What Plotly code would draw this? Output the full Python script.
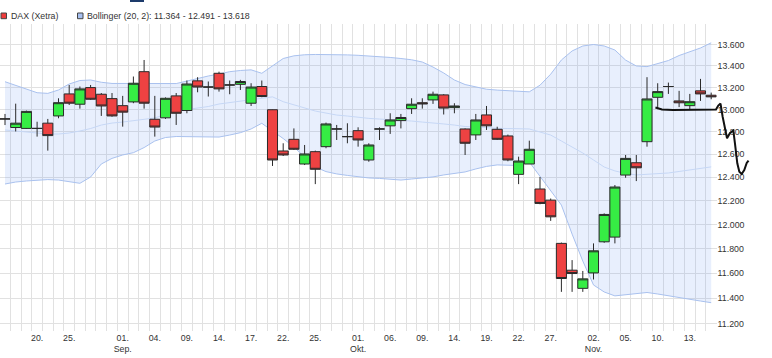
import plotly.graph_objects as go

# ---------------- data ----------------
dates = [
    "2020-08-17", "2020-08-18", "2020-08-19", "2020-08-20", "2020-08-21",
    "2020-08-24", "2020-08-25", "2020-08-26", "2020-08-27", "2020-08-28",
    "2020-08-31", "2020-09-01", "2020-09-02", "2020-09-03", "2020-09-04",
    "2020-09-07", "2020-09-08", "2020-09-09", "2020-09-10", "2020-09-11",
    "2020-09-14", "2020-09-15", "2020-09-16", "2020-09-17", "2020-09-18",
    "2020-09-21", "2020-09-22", "2020-09-23", "2020-09-24", "2020-09-25",
    "2020-09-28", "2020-09-29", "2020-09-30", "2020-10-01", "2020-10-02",
    "2020-10-05", "2020-10-06", "2020-10-07", "2020-10-08", "2020-10-09",
    "2020-10-12", "2020-10-13", "2020-10-14", "2020-10-15", "2020-10-16",
    "2020-10-19", "2020-10-20", "2020-10-21", "2020-10-22", "2020-10-23",
    "2020-10-26", "2020-10-27", "2020-10-28", "2020-10-29", "2020-10-30",
    "2020-11-02", "2020-11-03", "2020-11-04", "2020-11-05", "2020-11-06",
    "2020-11-09", "2020-11-10", "2020-11-11", "2020-11-12", "2020-11-13",
    "2020-11-16", "2020-11-17",
]

opens = [12915, 12838, 12830, 12830, 12877, 12942, 13142, 13048, 13200, 13139,
         13099, 13035, 13069, 13347, 12912, 12925, 13124, 12991, 13262, 13205,
         13332, 13224, 13230, 13057, 13210, 12998, 12630, 12733, 12516, 12624,
         12668, 12825, 12757, 12810, 12551, 12825, 12853, 12900, 13008, 13062,
         13087, 13133, 13017, 12825, 12772, 12951, 12822, 12763, 12426, 12516,
         12300, 12205, 11843, 11624, 11478, 11602, 11856, 11895, 12420, 12527,
         12712, 13111, 13210, 13078, 13035, 13170, 13130]
highs = [12960, 13053, 12990, 12890, 12915, 13102, 13224, 13210, 13224, 13150,
         13150, 13124, 13302, 13456, 13124, 13110, 13150, 13265, 13296, 13256,
         13347, 13265, 13271, 13240, 13265, 13000, 12698, 12830, 12683, 12633,
         12882, 12861, 12876, 12840, 12698, 12840, 12966, 12960, 13102, 13102,
         13163, 13140, 13057, 12830, 12960, 13032, 12845, 12775, 12580, 12721,
         12403, 12219, 11850, 11706, 11618, 11843, 12093, 12334, 12595, 12595,
         13296, 13240, 13246, 13170, 13142, 13280, 13154]
lows = [12860, 12803, 12825, 12757, 12633, 12921, 13041, 13008, 13087, 12942,
        12935, 12846, 13057, 13008, 12757, 12915, 12861, 12966, 13157, 13118,
        13163, 13139, 13178, 13032, 13112, 12499, 12586, 12639, 12507, 12342,
        12654, 12727, 12698, 12668, 12536, 12727, 12781, 12830, 12960, 13008,
        13051, 12955, 12966, 12595, 12727, 12816, 12727, 12540, 12342, 12516,
        12170, 12030, 11450, 11450, 11450, 11549, 11848, 11843, 12397, 12368,
        12668, 13003, 13142, 13022, 12998, 13078, 13093]
closes = [12915, 12877, 12983, 12830, 12766, 13062, 13057, 13188, 13093, 13032,
          12942, 12976, 13240, 13057, 12842, 13102, 12966, 13233, 13205, 13205,
          13188, 13224, 13256, 13205, 13118, 12551, 12595, 12645, 12604, 12470,
          12870, 12825, 12757, 12727, 12683, 12825, 12906, 12928, 13048, 13051,
          13139, 13013, 13032, 12698, 12906, 12853, 12733, 12551, 12542, 12645,
          12177, 12064, 11557, 11597, 11554, 11782, 12084, 12317, 12565, 12483,
          13096, 13163, 13210, 13061, 13071, 13142, 13115]

bb_upper = [13254, 13219, 13187, 13153, 13147, 13178, 13233, 13265, 13270, 13249,
            13238, 13237, 13237, 13237, 13237, 13237, 13237, 13260, 13284, 13307,
            13325, 13347, 13358, 13364, 13332, 13400, 13470, 13495, 13505, 13508,
            13508, 13506, 13504, 13500, 13495, 13488, 13480, 13470, 13458, 13437,
            13390, 13335, 13270, 13228, 13204, 13185, 13177, 13172, 13167, 13161,
            13222, 13324, 13456, 13541, 13588, 13602, 13588, 13550, 13455, 13400,
            13394, 13423, 13451, 13498, 13530, 13569, 13618]
bb_middle = [12816, 12807, 12801, 12793, 12780, 12780, 12789, 12807, 12829, 12860,
             12878, 12887, 12899, 12915, 12924, 12955, 12986, 13000, 13011, 13027,
             13050, 13064, 13073, 13087, 13101, 13115, 13071, 13041, 13009, 12986,
             12968, 12950, 12941, 12928, 12920, 12914, 12910, 12905, 12896, 12887,
             12881, 12870, 12860, 12847, 12843, 12834, 12831, 12829, 12825, 12825,
             12798, 12771, 12718, 12665, 12612, 12551, 12490, 12456, 12434, 12421,
             12425, 12430, 12438, 12451, 12464, 12477, 12491]
bb_lower = [12343, 12360, 12369, 12377, 12381, 12377, 12360, 12349, 12403, 12516,
            12565, 12595, 12615, 12660, 12718, 12749, 12758, 12756, 12753, 12751,
            12753, 12771, 12792, 12825, 12876, 12807, 12740, 12665, 12578, 12490,
            12450, 12430, 12417, 12404, 12395, 12391, 12386, 12377, 12386, 12395,
            12404, 12421, 12436, 12447, 12473, 12495, 12508, 12508, 12503, 12534,
            12412, 12291, 12163, 11920, 11698, 11505, 11449, 11418, 11429, 11437,
            11445, 11433, 11418, 11401, 11389, 11377, 11364]

tick_dates = ["2020-08-20", "2020-08-25", "2020-09-01", "2020-09-04", "2020-09-09",
              "2020-09-14", "2020-09-17", "2020-09-22", "2020-09-25", "2020-10-01",
              "2020-10-06", "2020-10-09", "2020-10-14", "2020-10-19", "2020-10-22",
              "2020-10-27", "2020-11-02", "2020-11-05", "2020-11-10", "2020-11-13"]
tick_labels = ["20.", "25.", "01.<br>Sep.", "04.", "09.", "14.", "17.", "22.", "25.",
               "01.<br>Okt.", "06.", "09.", "14.", "19.", "22.", "27.", "02.<br>Nov.",
               "05.", "10.", "13."]

y_tickvals = [11200, 11400, 11600, 11800, 12000, 12200, 12400,
              12600, 12800, 13000, 13200, 13400, 13600]
y_ticktext = ["11.200", "11.400", "11.600", "11.800", "12.000", "12.200", "12.400",
              "12.600", "12.800", "13.000", "13.200", "13.400", "13.600"]

# hand-drawn black stroke: (trading-day position, price level)
scribble_pos = [60.79, 61.40, 62.43, 64.95, 66.45, 66.66, 66.87, 67.07, 67.29, 67.48,
                67.76, 68.07, 68.22, 68.44, 68.63, 68.85, 69.09, 69.32, 69.49]
scribble_price = [13018, 13000, 12995, 13000, 13000, 13036, 13054, 12935, 12816, 12742,
                  12789, 12811, 12698, 12522, 12449, 12429, 12464, 12525, 12546]

# ---------------- figure ----------------
W, H = 772, 358
M_T, M_B = 24, 27
PLOT_H = H - M_T - M_B
PX_PER_DAY = 10.7
X0 = -0.467
X_RIGHT_PX = 716.6
YR = [4.04697, 4.13980]

x = list(range(len(dates)))
tickvals = [dates.index(d) for d in tick_dates]

band_line = "#a9c1ee"
fig = go.Figure()
fig.add_trace(go.Scatter(x=x, y=bb_lower, mode="lines", line=dict(color=band_line, width=1),
                         hoverinfo="skip", xaxis="x", yaxis="y"))
fig.add_trace(go.Scatter(x=x, y=bb_upper, mode="lines", line=dict(color=band_line, width=1),
                         fill="tonexty", fillcolor="rgba(100,148,241,0.15)",
                         hoverinfo="skip", xaxis="x", yaxis="y"))
fig.add_trace(go.Scatter(x=x, y=bb_middle, mode="lines", line=dict(color="#c6d7f5", width=1),
                         hoverinfo="skip", xaxis="x", yaxis="y"))
fig.add_trace(go.Candlestick(
    x=x, open=opens, high=highs, low=lows, close=closes,
    increasing=dict(fillcolor="#36ec44", line=dict(color="#2a2a2a", width=1)),
    decreasing=dict(fillcolor="#ee4242", line=dict(color="#2a2a2a", width=1)),
    whiskerwidth=0, xaxis="x", yaxis="y2", name="DAX (Xetra)"))
fig.add_trace(go.Scatter(x=scribble_pos, y=scribble_price, mode="lines",
                         line=dict(color="#111111", width=2), hoverinfo="skip",
                         xaxis="x2", yaxis="y3"))

def px_x(p):
    return p / W

def px_y(p):
    return (H - M_B - p) / PLOT_H

fmt = lambda v: f"{v:,}".replace(",", ".")
legend_items = [
    (1.0, "#ee3b3b", "DAX (Xetra)"),
    (77.5, "#a7c0f0", f"Bollinger (20, 2): {fmt(bb_lower[-1])} - {fmt(bb_middle[-1])} - {fmt(bb_upper[-1])}"),
]
shapes = []
annotations = []
for lx, col, txt in legend_items:
    shapes.append(dict(type="rect", xref="paper", yref="paper",
                       x0=px_x(lx), x1=px_x(lx + 5.5), y0=px_y(18.7), y1=px_y(13.0),
                       fillcolor=col, line=dict(color="#444", width=1)))
    annotations.append(dict(xref="paper", yref="paper", x=px_x(lx + 7.5), y=px_y(15.8),
                            xanchor="left", yanchor="middle", text=txt, showarrow=False,
                            font=dict(size=8.8, color="#333")))
shapes.append(dict(type="rect", xref="paper", yref="paper", x0=px_x(130), x1=px_x(144),
                   y0=px_y(2), y1=px_y(0), fillcolor="#1d3b6b", line=dict(width=0)))

grid = "#e1e1e1"
fig.update_layout(
    width=W, height=H,
    margin=dict(l=0, r=0, t=M_T, b=M_B, pad=0),
    paper_bgcolor="white", plot_bgcolor="rgba(0,0,0,0)",
    showlegend=False, boxgap=0.06, boxgroupgap=0,
    font=dict(family="Liberation Sans, Arial, sans-serif", size=8.8, color="#333"),
    shapes=shapes, annotations=annotations,
    xaxis=dict(domain=[0, X_RIGHT_PX / W], range=[X0, X0 + X_RIGHT_PX / PX_PER_DAY],
               tickmode="array", tickvals=tickvals, ticktext=tick_labels,
               showgrid=False, zeroline=False, showline=False, ticks="",
               rangeslider=dict(visible=False), anchor="y", automargin=False,
               minor=dict(tickmode="linear", tick0=0.5, dtick=1, showgrid=True,
                          gridcolor=grid, gridwidth=1, ticks="")),
    yaxis=dict(type="log", range=YR, side="right", anchor="x",
               tickmode="array", tickvals=y_tickvals, ticktext=y_ticktext,
               showgrid=True, gridcolor=grid, gridwidth=1, zeroline=False,
               showline=False, ticks="", automargin=False),
    yaxis2=dict(type="log", range=YR, overlaying="y", anchor="x", visible=False),
    xaxis2=dict(domain=[0, 1], range=[X0, X0 + W / PX_PER_DAY], anchor="y3", visible=False),
    yaxis3=dict(domain=[0, 1], type="log", range=YR, anchor="x2", visible=False),
)

fig.write_html("out.html", config={"displayModeBar": False},
               post_script="document.body.style.margin='0';document.body.style.padding='0';")
